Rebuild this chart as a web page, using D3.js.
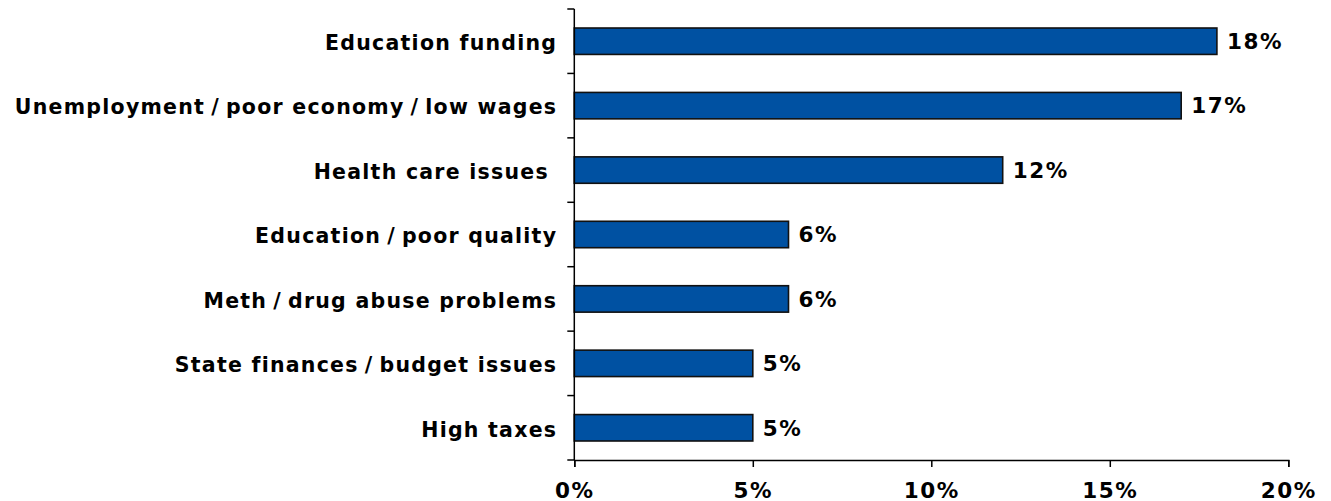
<!DOCTYPE html>
<html>
<head>
<meta charset="utf-8">
<script src="https://cdn.jsdelivr.net/npm/d3@7"></script>
<style>
  html, body { margin: 0; padding: 0; background: #fff; }
  svg text { font-family: "DejaVu Sans", Verdana, sans-serif; font-weight: bold; fill: #000; }
</style>
</head>
<body>
<svg id="chart" width="1331" height="501"></svg>
<script>
const categories = [
  "Education funding",
  "Unemployment/poor economy/low wages",
  "Health care issues ",
  "Education/poor quality",
  "Meth/drug abuse problems",
  "State finances/budget issues",
  "High taxes"
];
const values = [18, 17, 12, 6, 6, 5, 5];
const xTicks = [0, 5, 10, 15, 20];

const svg = d3.select("#chart");
const pLeft = 574.3, pRight = 1288.3, pTop = 9, pBottom = 460;
const FS = 20.5, LS = "1.25px", SLASH_GAP = 6;
const VFS = 21.5, VLS = "1.6px";

const x = d3.scaleLinear().domain([0, 20]).range([pLeft, pRight]);
const y = d3.scaleBand().domain(categories).range([pTop, pBottom]).paddingInner(0.59).paddingOuter(0.295);

// bars
svg.selectAll("rect.bar").data(values).enter().append("rect")
  .attr("class", "bar")
  .attr("x", x(0))
  .attr("y", (d, i) => y(categories[i]))
  .attr("width", d => x(d) - x(0))
  .attr("height", y.bandwidth())
  .attr("fill", "#0051A2")
  .attr("stroke", "#111")
  .attr("stroke-width", 1.6);

// value labels
svg.selectAll("text.val").data(values).enter().append("text")
  .attr("class", "val")
  .attr("x", d => x(d) + 10)
  .attr("y", (d, i) => y(categories[i]) + y.bandwidth() / 2)
  .attr("dy", "0.36em")
  .attr("font-size", VFS)
  .style("letter-spacing", VLS)
  .text(d => d + "%");

// y axis
const yBoundaries = d3.range(categories.length + 1).map(i => pTop + i * (pBottom - pTop) / categories.length);
svg.append("line").attr("x1", pLeft).attr("x2", pLeft).attr("y1", pTop).attr("y2", pBottom)
  .attr("stroke", "#000").attr("stroke-width", 1.5);
svg.selectAll("line.ytick").data(yBoundaries).enter().append("line")
  .attr("class", "ytick")
  .attr("x1", pLeft - 7).attr("x2", pLeft)
  .attr("y1", d => d).attr("y2", d => d)
  .attr("stroke", "#000").attr("stroke-width", 1.5);

const cats = svg.selectAll("text.cat").data(categories).enter().append("text")
  .attr("class", "cat")
  .attr("x", pLeft - 17)
  .attr("y", d => y(d) + y.bandwidth() / 2)
  .attr("dy", "0.43em")
  .attr("text-anchor", "end")
  .attr("font-size", FS)
  .style("letter-spacing", LS)
  .style("white-space", "pre");

cats.each(function(d) {
  const t = d3.select(this);
  const parts = d.split("/");
  parts.forEach((p, i) => {
    if (i > 0) {
      t.append("tspan").attr("dx", SLASH_GAP).text("/");
      t.append("tspan").attr("dx", SLASH_GAP).text(p);
    } else {
      t.append("tspan").text(p);
    }
  });
});

// x axis
const xAxis = d3.axisBottom(x).tickValues(xTicks).tickSize(7).tickPadding(15.5)
  .tickFormat(d => d + "%");
const gx = svg.append("g").attr("transform", `translate(0,${pBottom})`).call(xAxis);
gx.select(".domain").attr("stroke", "#000").attr("stroke-width", 1.5);
gx.selectAll(".tick line").attr("stroke", "#000").attr("stroke-width", 1.5);
gx.selectAll(".tick text").attr("font-size", VFS).style("letter-spacing", VLS)
  .attr("font-family", null).style("font-family", "'DejaVu Sans', Verdana, sans-serif").style("font-weight", "bold").attr("fill", "#000");
</script>
</body>
</html>
